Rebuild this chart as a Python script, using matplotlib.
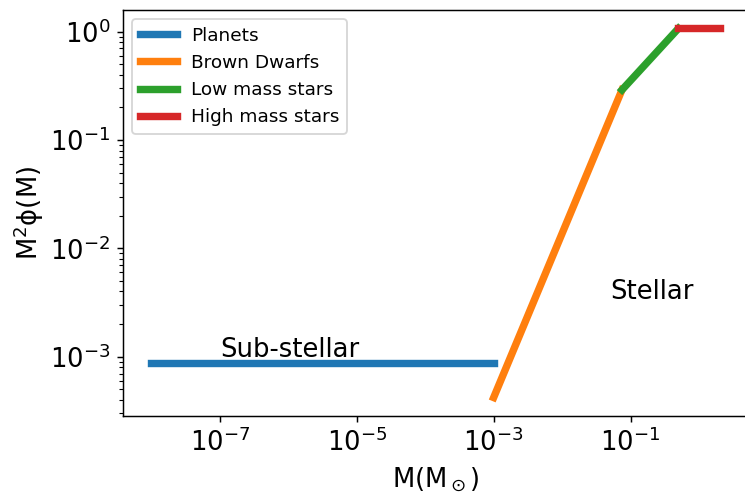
import matplotlib
matplotlib.use("Agg")
import matplotlib.pyplot as plt

# Data
planets_m = [1e-8, 1e-3]
planets_phi = [8.7e-4, 8.7e-4]
bd_m = [1e-3, 0.075]
bd_phi = [4.2e-4, 0.29]
lms_m = [0.075, 0.5]
lms_phi = [0.29, 1.07]
hms_m = [0.5, 2.0]
hms_phi = [1.07, 1.07]

labels = ["Planets", "Brown Dwarfs", "Low mass stars", "High mass stars"]

dpi = 133
fig = plt.figure(figsize=(745 / dpi, 494 / dpi), dpi=dpi)
ax = fig.add_axes([123 / 745, 78 / 494, 625 / 745, 406 / 494])

lw = 4
ax.plot(planets_m, planets_phi, lw=lw, label=labels[0])
ax.plot(bd_m, bd_phi, lw=lw, label=labels[1])
ax.plot(lms_m, lms_phi, lw=lw, label=labels[2])
ax.plot(hms_m, hms_phi, lw=lw, label=labels[3])

ax.set_xscale("log")
ax.set_yscale("log")

ax.text(1e-7, 1e-3, "Sub-stellar", fontsize=14)
ax.text(0.05, 3.4e-3, "Stellar", fontsize=14)

ax.set_xlabel(r"M(M$_\odot$)", fontsize=14)
ax.set_ylabel(r"M$^2$ϕ(M)", fontsize=14, labelpad=2)
ax.tick_params(labelsize=14)
ax.legend(loc="upper left", fontsize=10)

fig.savefig("out.png", dpi=dpi)
